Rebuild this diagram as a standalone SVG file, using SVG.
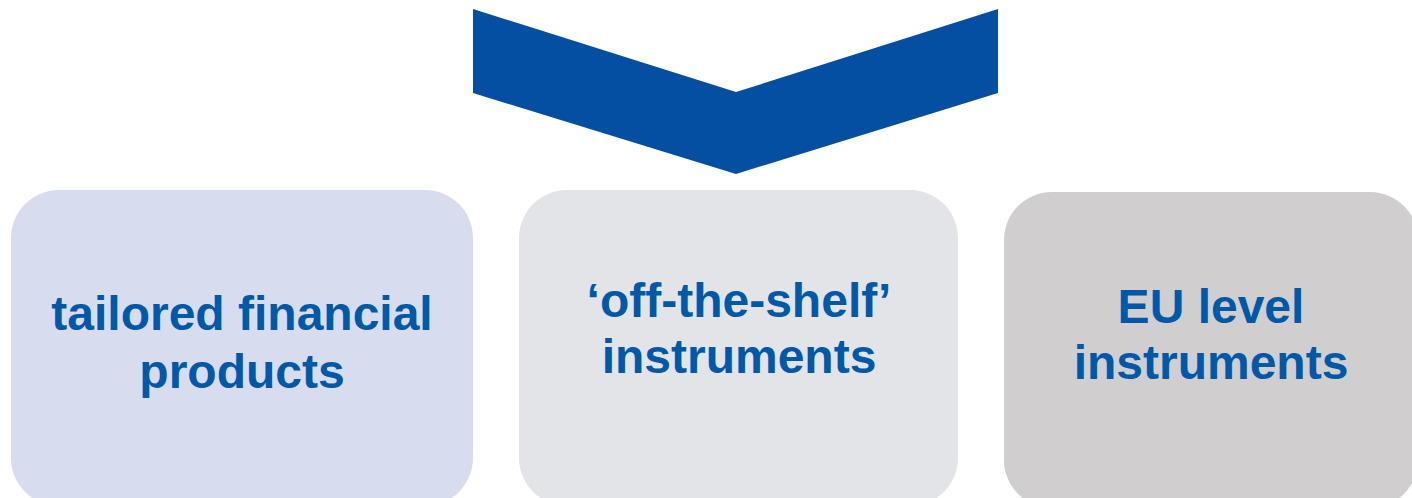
<svg xmlns="http://www.w3.org/2000/svg" width="1412" height="498" viewBox="0 0 1412 498">
<style>
.lbl{font-family:"Liberation Sans",Arial,sans-serif;font-weight:bold;font-size:48px;fill:#0058a9;text-anchor:middle}
</style>
<rect width="1412" height="498" fill="#ffffff"/>
<g id="connectors">
<polygon points="473,9 736,92 998,9 998,93 736,174 473,93" fill="#044fa2"/>
</g>
<g id="node1">
<rect x="11" y="190" width="462" height="316" rx="48" ry="48" fill="#d8dcef"/>
<text class="lbl" x="242" y="330">tailored financial</text>
<text class="lbl" x="242" y="388">products</text>
</g>
<g id="node2">
<rect x="519" y="190" width="439" height="316" rx="48" ry="48" fill="#e3e4e8"/>
<text class="lbl" x="739" y="317">‘off-the-shelf’</text>
<text class="lbl" x="739" y="373">instruments</text>
</g>
<g id="node3">
<rect x="1004" y="192" width="414" height="316" rx="48" ry="48" fill="#d0cecf"/>
<text class="lbl" x="1211" y="323">EU level</text>
<text class="lbl" x="1211" y="379">instruments</text>
</g>
</svg>
